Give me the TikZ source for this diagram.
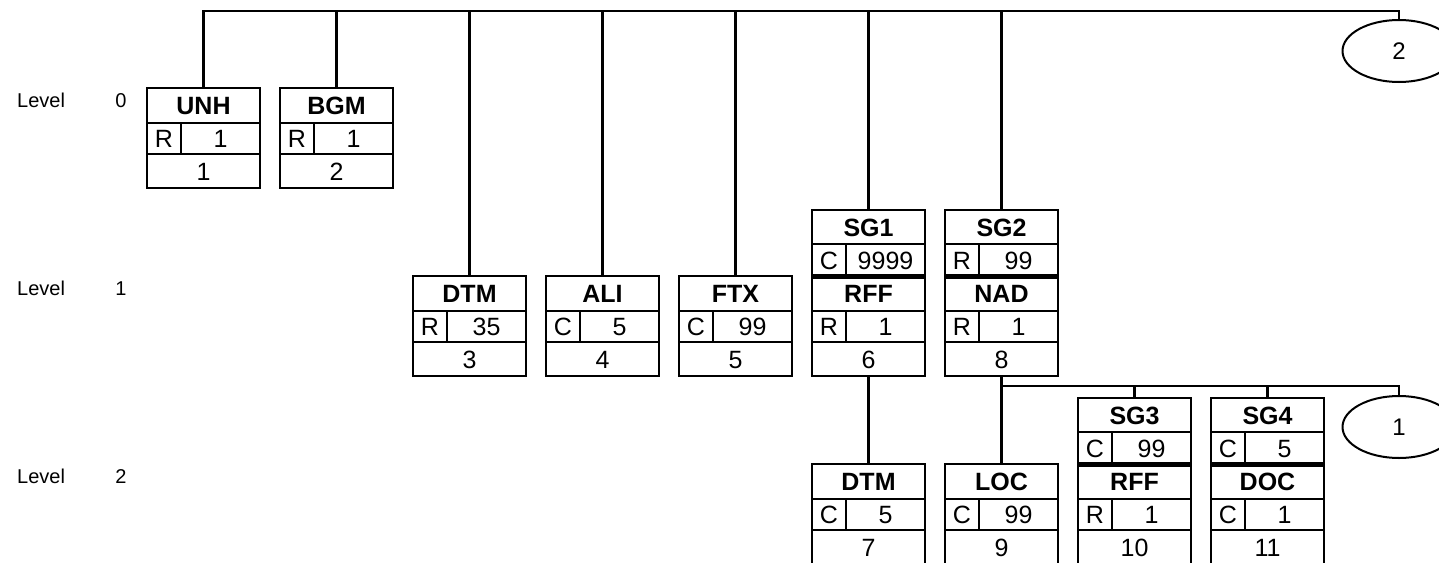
\documentclass[tikz,border=0pt]{standalone}
\usepackage{fontspec}
\setmainfont{Liberation Sans}
\usetikzlibrary{shapes.geometric}
\tikzset{
  boxline/.style={line width=2.9pt},
  conn/.style={line width=2.9pt},
  boxnode/.style={draw, rectangle, line width=2.9pt, minimum width=113pt, anchor=north west, inner sep=0pt, outer sep=0pt},
  lbl/.style={font=\fontsize{20}{20}\selectfont, inner sep=0pt, text height=14.3pt, text depth=0pt},
  tagtxt/.style={font=\fontsize{25}{25}\selectfont\bfseries, inner sep=0pt, text height=18pt, text depth=0pt},
  cell/.style={font=\fontsize{25}{25}\selectfont, inner sep=0pt, text height=18pt, text depth=0pt},
  oval/.style={draw, ellipse, line width=2pt, minimum width=113pt, minimum height=62pt, inner sep=0pt, outer sep=0pt, font=\fontsize{24}{24}\selectfont},
}
% name, x, y, tag, status, repetition, number
\newcommand{\segbox}[7]{%
  \node[boxnode, minimum height=100pt] (#1) at (#2,#3) {};
  \draw[boxline] ({#2},{#3+35}) -- ({#2+113},{#3+35});
  \draw[boxline] ({#2+34},{#3+35}) -- ({#2+34},{#3+66});
  \draw[boxline] ({#2},{#3+66}) -- ({#2+113},{#3+66});
  \node[tagtxt] (#1-t) at ({#2+56.5},{#3+17.5}) {#4};
  \node[cell] (#1-s) at ({#2+17},{#3+50.5}) {#5};
  \node[cell] (#1-r) at ({#2+73.5},{#3+50.5}) {#6};
  \node[cell] (#1-n) at ({#2+56.5},{#3+83}) {#7};
}
% name, x, y, tag, status, repetition
\newcommand{\grpbox}[6]{%
  \node[boxnode, minimum height=66pt] (#1) at (#2,#3) {};
  \draw[boxline] ({#2},{#3+34}) -- ({#2+113},{#3+34});
  \draw[boxline] ({#2+34},{#3+34}) -- ({#2+34},{#3+66});
  \draw[line width=5pt] ({#2},{#3+66}) -- ({#2+113},{#3+66});
  \node[tagtxt] (#1-t) at ({#2+56.5},{#3+17}) {#4};
  \node[cell] (#1-s) at ({#2+17},{#3+50}) {#5};
  \node[cell] (#1-r) at ({#2+73.5},{#3+50}) {#6};
}
\begin{document}
\begin{tikzpicture}[x=1pt,y=-1pt]
\clip (0,0) rectangle (1439,562);
\fill[white] (0,0) rectangle (1439,562);

% level labels
\node[lbl, anchor=west] (lv0) at (17,100) {Level};
\node[lbl] (lv0n) at (121,100) {0};
\node[lbl, anchor=west] (lv1) at (17,288) {Level};
\node[lbl] (lv1n) at (121,288) {1};
\node[lbl, anchor=west] (lv2) at (17,476) {Level};
\node[lbl] (lv2n) at (121,476) {2};

% level 0
\segbox{unh}{147}{88}{UNH}{R}{1}{1}
\segbox{bgm}{280}{88}{BGM}{R}{1}{2}
% level 1
\segbox{dtm}{413}{276}{DTM}{R}{35}{3}
\segbox{ali}{546}{276}{ALI}{C}{5}{4}
\segbox{ftx}{679}{276}{FTX}{C}{99}{5}
\segbox{rff}{812}{276}{RFF}{R}{1}{6}
\grpbox{sg1}{812}{210}{SG1}{C}{9999}
\segbox{nad}{945}{276}{NAD}{R}{1}{8}
\grpbox{sg2}{945}{210}{SG2}{R}{99}
% level 2
\segbox{dtmb}{812}{464}{DTM}{C}{5}{7}
\segbox{loc}{945}{464}{LOC}{C}{99}{9}
\segbox{rffb}{1078}{464}{RFF}{R}{1}{10}
\grpbox{sg3}{1078}{398}{SG3}{C}{99}
\segbox{doc}{1211}{464}{DOC}{C}{1}{11}
\grpbox{sg4}{1211}{398}{SG4}{C}{5}

% ovals
\node[oval] (o2) at (1399,51) {2};
\node[oval] (o1) at (1399,427) {1};

% connectors
\coordinate (topR) at (1399,11);
\coordinate (midR) at (1399,386);
\draw[conn] (unh.north) |- (topR) -- (o2.north);
\foreach \n in {bgm,dtm,ali,ftx,sg1,sg2}{
  \draw[conn] (\n.north) -- (\n.north |- topR);
}
\draw[conn] (rff.south) -- (dtmb.north);
\draw[conn] (nad.south) -- (loc.north);
\draw[conn] (nad.south |- midR) -- (midR) -- (o1.north);
\draw[conn] (sg3.north) -- (sg3.north |- midR);
\draw[conn] (sg4.north) -- (sg4.north |- midR);
\end{tikzpicture}
\end{document}
